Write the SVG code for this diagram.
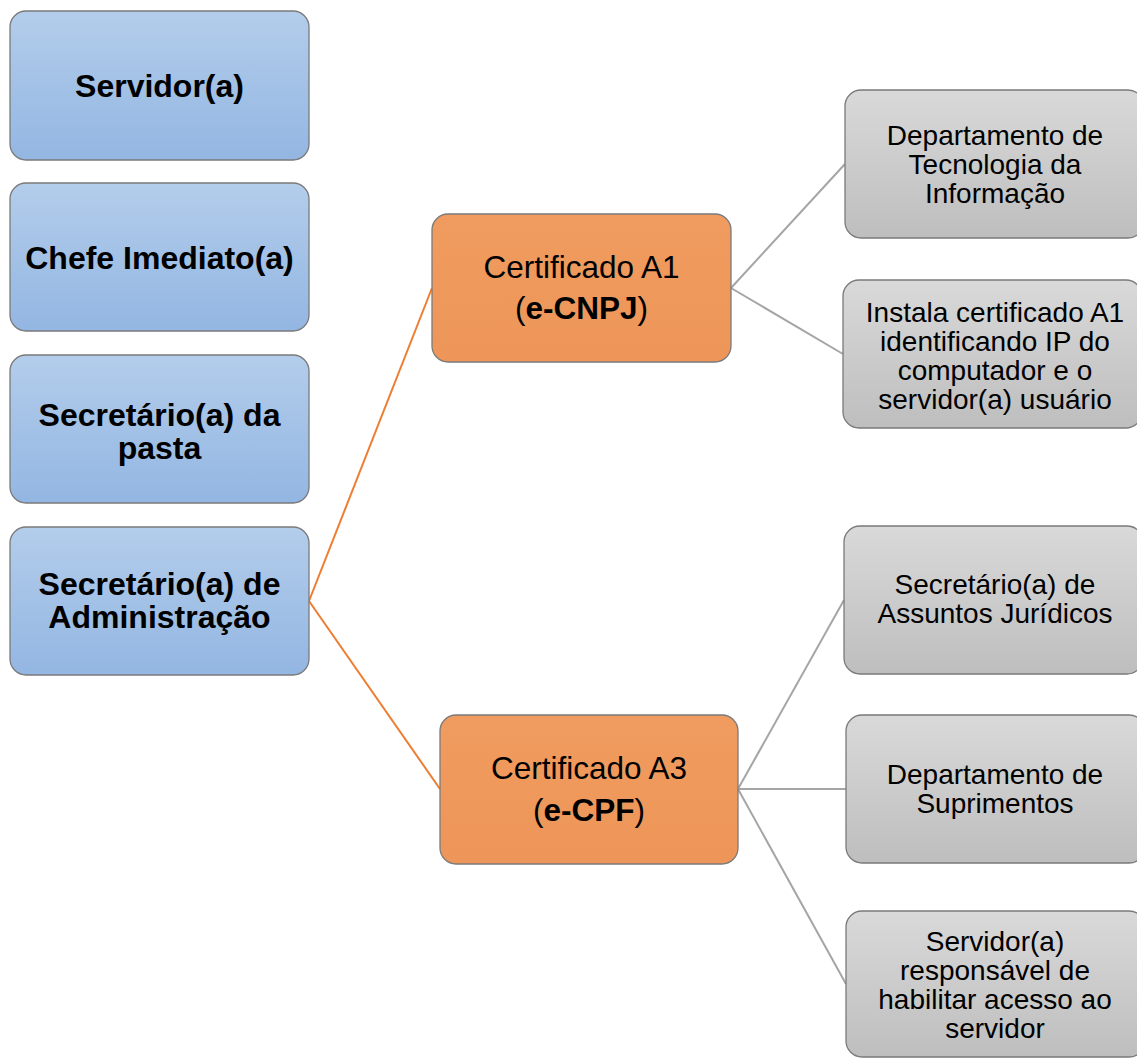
<svg xmlns="http://www.w3.org/2000/svg" width="1137" height="1058" viewBox="0 0 1137 1058">
<defs>
<linearGradient id="gBlue" x1="0" y1="0" x2="0" y2="1"><stop offset="0" stop-color="#B3CDEB"/><stop offset="1" stop-color="#93B6E2"/></linearGradient>
<linearGradient id="gGray" x1="0" y1="0" x2="0" y2="1"><stop offset="0" stop-color="#D9D9D9"/><stop offset="1" stop-color="#BEBEBE"/></linearGradient>
<linearGradient id="gOrange" x1="0" y1="0" x2="0" y2="1"><stop offset="0" stop-color="#F09B5F"/><stop offset="1" stop-color="#EE965A"/></linearGradient>
</defs>
<style>
.box{stroke:#7A7A7A;stroke-width:1.3}
.blue{fill:url(#gBlue)}
.gray{fill:url(#gGray)}
.orange{fill:url(#gOrange)}
.tb{font-family:"Liberation Sans",Arial,sans-serif;font-weight:bold;font-size:32px;fill:#000;text-anchor:middle}
.to{font-family:"Liberation Sans",Arial,sans-serif;font-size:31.5px;fill:#000;text-anchor:middle}
.tg{font-family:"Liberation Sans",Arial,sans-serif;font-size:28px;fill:#000;text-anchor:middle}
.co{stroke:#ED7D31;stroke-width:2;fill:none}
.cg{stroke:#A5A5A5;stroke-width:2;fill:none}
</style>
<rect width="1137" height="1058" fill="#FFFFFF"/>
<g id="connectors">
<line class="co" x1="309" y1="601" x2="432" y2="288"/>
<line class="co" x1="309" y1="601" x2="440" y2="789"/>
<line class="cg" x1="731" y1="288" x2="845" y2="164"/>
<line class="cg" x1="731" y1="288" x2="843" y2="354"/>
<line class="cg" x1="738" y1="789" x2="844" y2="600"/>
<line class="cg" x1="738" y1="789" x2="846" y2="789"/>
<line class="cg" x1="738" y1="789" x2="846" y2="984"/>
</g>
<g id="n-servidor">
<rect class="box blue" x="10" y="11" width="299" height="149" rx="16"/>
<text class="tb" x="159.5" y="97">Servidor(a)</text>
</g>
<g id="n-chefe">
<rect class="box blue" x="10" y="183" width="299" height="148" rx="16"/>
<text class="tb" x="159.5" y="269">Chefe Imediato(a)</text>
</g>
<g id="n-secpasta">
<rect class="box blue" x="10" y="355" width="299" height="148" rx="16"/>
<text class="tb" x="159.5" y="426">Secretário(a) da</text>
<text class="tb" x="159.5" y="459">pasta</text>
</g>
<g id="n-secadm">
<rect class="box blue" x="10" y="527" width="299" height="148" rx="16"/>
<text class="tb" x="159.5" y="595">Secretário(a) de</text>
<text class="tb" x="159.5" y="628">Administração</text>
</g>
<g id="n-a1">
<rect class="box orange" x="432" y="214" width="299" height="148" rx="16"/>
<text class="to" x="581.5" y="278">Certificado A1</text>
<text class="to" x="581.5" y="319">(<tspan font-weight="bold">e-CNPJ</tspan>)</text>
</g>
<g id="n-a3">
<rect class="box orange" x="440" y="715" width="298" height="149" rx="16"/>
<text class="to" x="589" y="779">Certificado A3</text>
<text class="to" x="589" y="821">(<tspan font-weight="bold">e-CPF</tspan>)</text>
</g>
<g id="n-dti">
<rect class="box gray" x="845" y="90" width="299" height="148" rx="16"/>
<text class="tg" x="995" y="145">Departamento de</text>
<text class="tg" x="995" y="174">Tecnologia da</text>
<text class="tg" x="995" y="203">Informação</text>
</g>
<g id="n-instala">
<rect class="box gray" x="843" y="280" width="299" height="148" rx="16"/>
<text class="tg" x="995" y="322">Instala certificado A1</text>
<text class="tg" x="995" y="351">identificando IP do</text>
<text class="tg" x="995" y="380">computador e o</text>
<text class="tg" x="995" y="409">servidor(a) usuário</text>
</g>
<g id="n-secjur">
<rect class="box gray" x="844" y="526" width="299" height="148" rx="16"/>
<text class="tg" x="995" y="594">Secretário(a) de</text>
<text class="tg" x="995" y="623">Assuntos Jurídicos</text>
</g>
<g id="n-suprimentos">
<rect class="box gray" x="846" y="715" width="299" height="148" rx="16"/>
<text class="tg" x="995" y="784">Departamento de</text>
<text class="tg" x="995" y="813">Suprimentos</text>
</g>
<g id="n-habilitar">
<rect class="box gray" x="846" y="911" width="299" height="146" rx="16"/>
<text class="tg" x="995" y="951">Servidor(a)</text>
<text class="tg" x="995" y="980">responsável de</text>
<text class="tg" x="995" y="1009">habilitar acesso ao</text>
<text class="tg" x="995" y="1038">servidor</text>
</g>
</svg>
